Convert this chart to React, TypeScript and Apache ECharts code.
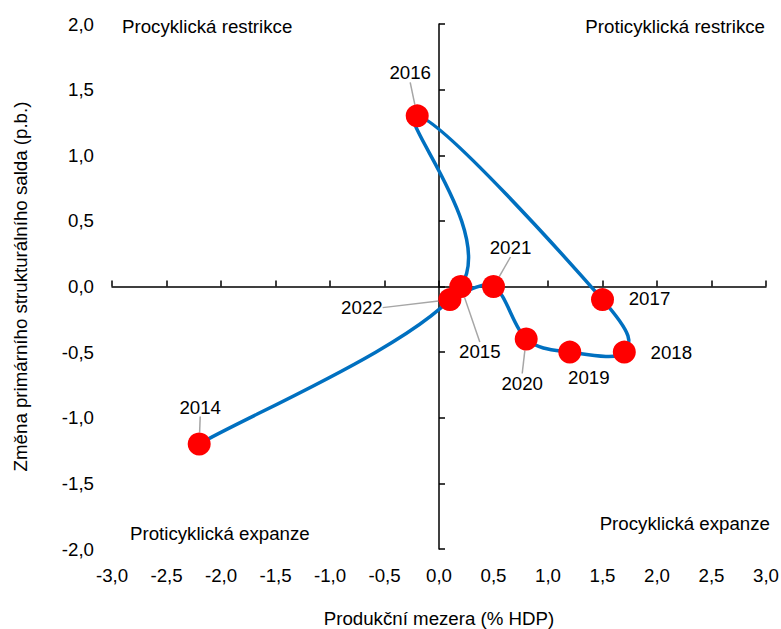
import React, { useEffect, useRef } from "react";
import * as echarts from "echarts";

const years = ["2014", "2015", "2016", "2017", "2018", "2019", "2020", "2021", "2022"];
const outputGap = [-2.2, 0.2, -0.2, 1.5, 1.7, 1.2, 0.8, 0.5, 0.1];
const balanceChange = [-1.2, 0.0, 1.3, -0.1, -0.5, -0.5, -0.4, 0.0, -0.1];
const quadrantLabels = [
  "Procyklická restrikce",
  "Proticyklická restrikce",
  "Proticyklická expanze",
  "Procyklická expanze",
];
const xTitle = "Produkční mezera (% HDP)";
const yTitle = "Změna primárního strukturálního salda (p.b.)";

// label offsets (px) relative to marker centre, and whether a leader line is shown
const labelOffsets: [number, number][] = [
  [1, -37],
  [19, 65],
  [-7, -43],
  [47, -1],
  [47, 0],
  [19, 25],
  [-4, 44],
  [17, -39],
  [-88, 8],
];
const showLeader = [true, true, true, false, false, false, true, true, true];

const FONT = "'Liberation Sans', Arial, sans-serif";
const FS = 18.7;
const fmt = (v: number) => v.toFixed(1).replace(".", ",");

export default function App() {
  const ref = useRef<HTMLDivElement>(null);
  useEffect(() => {
    if (!ref.current) return;
    const chart = echarts.init(ref.current, undefined, { renderer: "svg" });
    const pts = outputGap.map((x, i) => [x, balanceChange[i]]);
    const axisLineStyle = { color: "#000", width: 1.5 };
    const n = pts.length;
    chart.setOption({
      animation: false,
      backgroundColor: "#fff",
      textStyle: { fontFamily: FONT },
      grid: { left: 112, right: 15, top: 24, bottom: 80, containLabel: false, outerBoundsMode: "none" },
      xAxis: [
        {
          type: "value",
          min: -3,
          max: 3,
          interval: 0.5,
          position: "bottom",
          axisLine: { show: true, onZero: true, lineStyle: axisLineStyle },
          axisTick: { show: true, inside: true, length: 6, lineStyle: axisLineStyle },
          axisLabel: { show: false },
          splitLine: { show: false },
        },
        {
          type: "value",
          min: -3,
          max: 3,
          interval: 0.5,
          position: "bottom",
          axisLine: { show: false, onZero: false },
          axisTick: { show: false },
          axisLabel: { show: true, formatter: fmt, fontSize: FS, color: "#000", margin: 17, fontFamily: FONT },
          splitLine: { show: false },
          name: xTitle,
          nameLocation: "middle",
          nameGap: 60,
          nameTextStyle: { fontSize: FS, color: "#000", fontFamily: FONT },
        },
      ],
      yAxis: [
        {
          type: "value",
          min: -2,
          max: 2,
          interval: 0.5,
          position: "left",
          axisLine: { show: true, onZero: true, lineStyle: axisLineStyle },
          axisTick: { show: true, inside: true, length: 6, lineStyle: axisLineStyle },
          axisLabel: { show: false },
          splitLine: { show: false },
        },
        {
          type: "value",
          min: -2,
          max: 2,
          interval: 0.5,
          position: "left",
          axisLine: { show: false, onZero: false },
          axisTick: { show: false },
          axisLabel: { show: true, formatter: fmt, fontSize: FS, color: "#000", margin: 18, fontFamily: FONT },
          splitLine: { show: false },
          name: yTitle,
          nameLocation: "middle",
          nameGap: 82,
          nameTextStyle: { fontSize: FS, color: "#000", fontFamily: FONT },
        },
      ],
      series: [
        {
          type: "custom",
          xAxisIndex: 0,
          yAxisIndex: 0,
          data: pts,
          clip: false,
          z: 2,
          silent: true,
          renderItem: (params: any, api: any) => {
            const i = params.dataIndex;
            if (i >= n - 1) return null;
            const c = (k: number) => api.coord(pts[Math.max(0, Math.min(n - 1, k))]);
            const p0 = c(i - 1);
            const p1 = c(i);
            const p2 = c(i + 1);
            const p3 = c(i + 2);
            return {
              type: "bezierCurve",
              shape: {
                x1: p1[0],
                y1: p1[1],
                cpx1: p1[0] + (p2[0] - p0[0]) / 6,
                cpy1: p1[1] + (p2[1] - p0[1]) / 6,
                cpx2: p2[0] - (p3[0] - p1[0]) / 6,
                cpy2: p2[1] - (p3[1] - p1[1]) / 6,
                x2: p2[0],
                y2: p2[1],
              },
              style: { stroke: "#0070C0", lineWidth: 3.5, fill: "none" },
            };
          },
        },
        {
          type: "scatter",
          xAxisIndex: 0,
          yAxisIndex: 0,
          symbol: "circle",
          symbolSize: 23,
          itemStyle: { color: "#FF0000", opacity: 1 },
          z: 3,
          data: pts.map((p, i) => ({
            value: p,
            name: years[i],
            labelLine: { show: showLeader[i] },
          })),
          label: {
            show: true,
            position: "inside",
            formatter: (p: any) => p.name,
            fontSize: FS,
            color: "#000",
            fontFamily: FONT,
          },
          labelLine: { show: true, lineStyle: { color: "#A6A6A6", width: 1.5 } },
          labelLayout: (params: any) => ({
            dx: labelOffsets[params.dataIndex][0],
            dy: labelOffsets[params.dataIndex][1],
          }),
        },
      ],
      graphic: [
        {
          type: "text",
          x: 122,
          y: 26,
          style: { text: quadrantLabels[0], font: `${FS}px ${FONT}`, fill: "#000", align: "left", verticalAlign: "middle" },
        },
        {
          type: "text",
          x: 765,
          y: 26,
          style: { text: quadrantLabels[1], font: `${FS}px ${FONT}`, fill: "#000", align: "right", verticalAlign: "middle" },
        },
        {
          type: "text",
          x: 130,
          y: 533,
          style: { text: quadrantLabels[2], font: `${FS}px ${FONT}`, fill: "#000", align: "left", verticalAlign: "middle" },
        },
        {
          type: "text",
          x: 770,
          y: 523,
          style: { text: quadrantLabels[3], font: `${FS}px ${FONT}`, fill: "#000", align: "right", verticalAlign: "middle" },
        },
      ],
    });
    return () => chart.dispose();
  }, []);
  return (
    <div
      ref={ref}
      style={{ position: "fixed", left: 0, top: 0, width: 781, height: 629, background: "#fff" }}
    />
  );
}
